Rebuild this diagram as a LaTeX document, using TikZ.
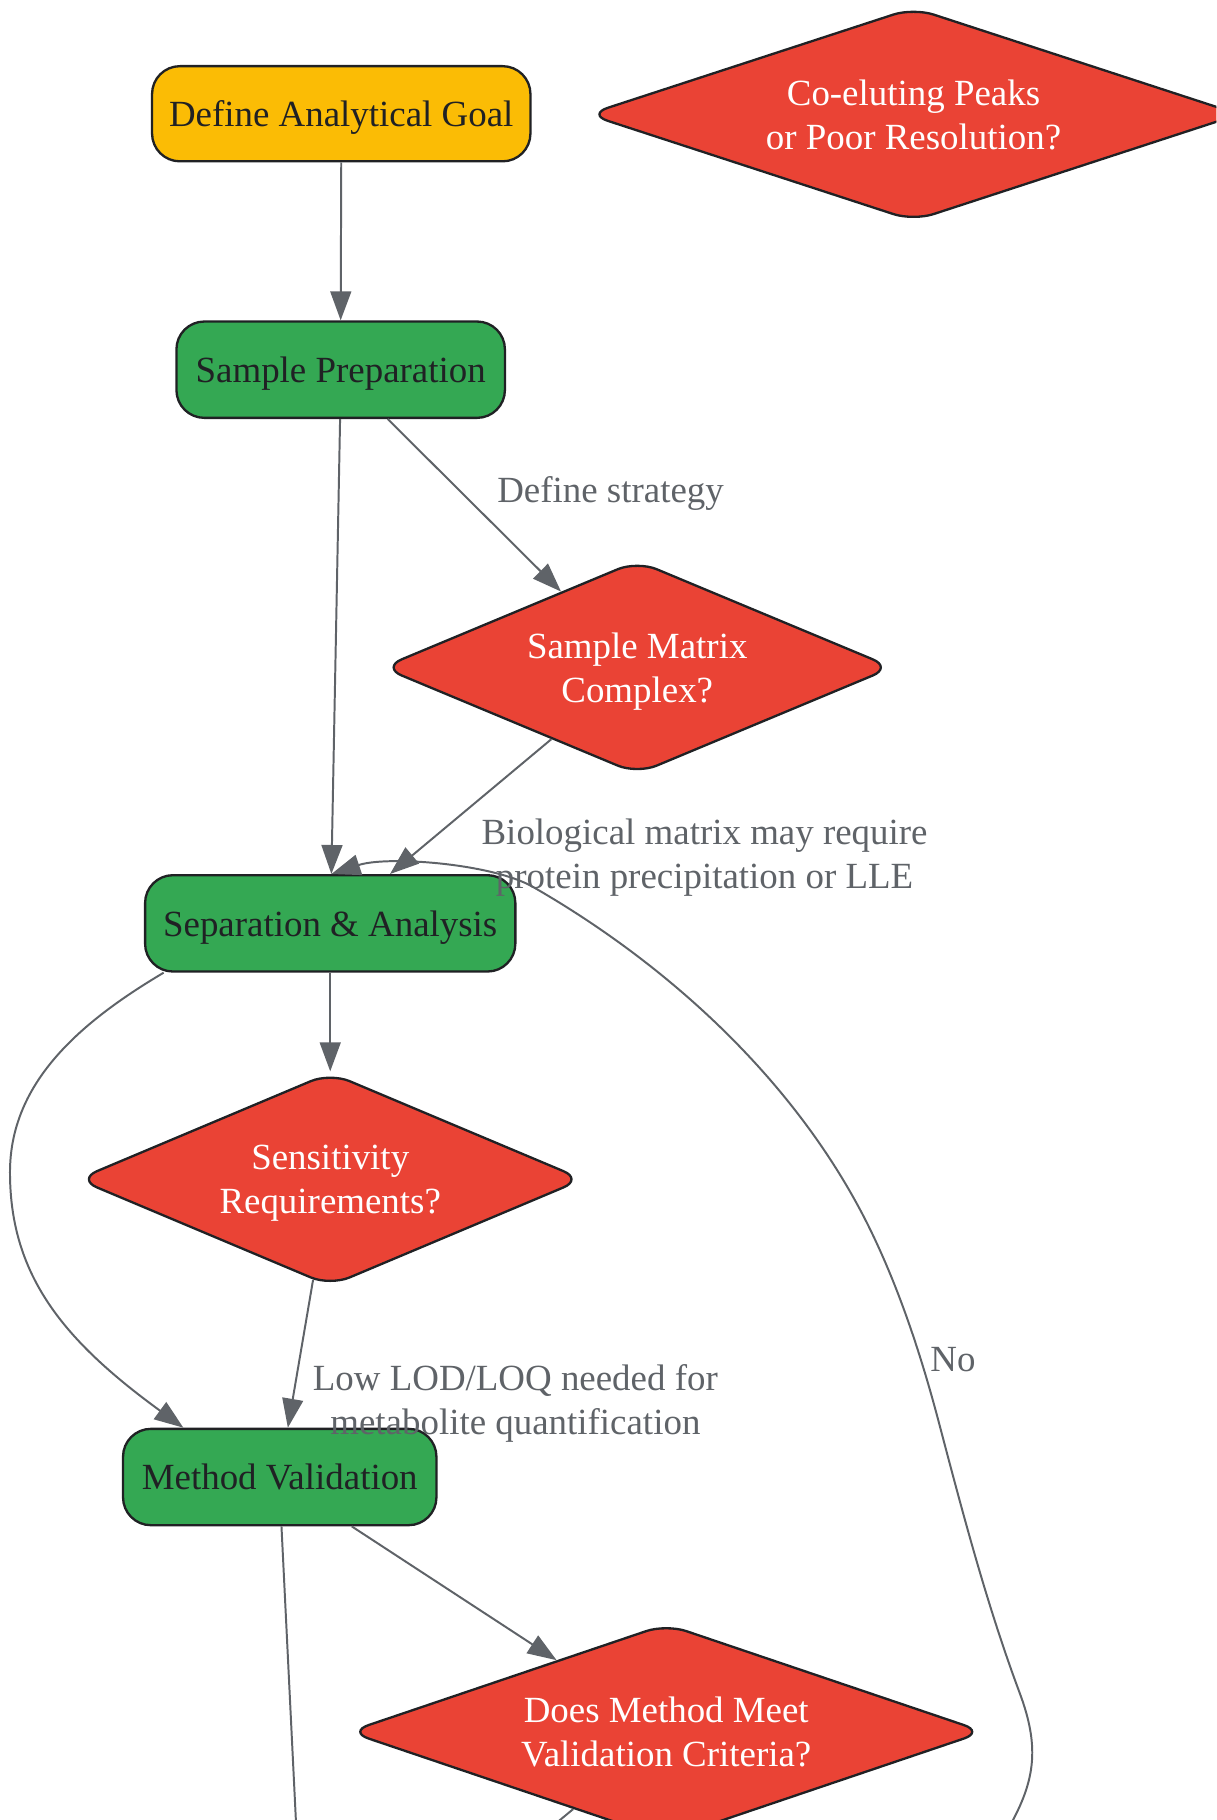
\documentclass[tikz,border=0pt]{standalone}
\usepackage{fontspec}
\setmainfont{Liberation Serif}
\usetikzlibrary{shapes.geometric,arrows.meta}
\definecolor{yellowc}{HTML}{FBBC05}
\definecolor{greenc}{HTML}{34A853}
\definecolor{redc}{HTML}{EA4335}
\definecolor{bordercol}{HTML}{202124}
\definecolor{edgecol}{HTML}{5F6368}
\definecolor{textdark}{HTML}{202124}
\newcommand{\nfnt}{\fontsize{31.8}{38}\selectfont}
\tikzset{
  procbox/.style={rectangle, rounded corners=24pt, draw=bordercol, line width=2pt,
    text=textdark, minimum height=83pt, inner sep=0pt, font=\nfnt,
    text height=22pt, text depth=-1pt},
  decbox/.style={diamond, aspect=3, rounded corners=18pt, draw=bordercol, line width=2pt,
    fill=redc, text=white, inner sep=0pt, align=center, font=\nfnt, text depth=-2pt},
  arrowline/.style={draw=edgecol, line width=1.7pt, -{Triangle[length=25pt,width=18pt]}},
  plainline/.style={draw=edgecol, line width=1.7pt},
  edgelbl/.style={text=edgecol, align=center, font=\nfnt, inner sep=0pt, text depth=0pt}
}
\begin{document}
\begin{tikzpicture}[x=1pt,y=1pt]
\useasboundingbox (0,0) rectangle (1048,-1568);
\clip (0,0) rectangle (1048,-1568);

% nodes
\node[procbox, fill=yellowc, minimum width=326pt, minimum height=82pt] (dag) at (294,-98) {Define Analytical Goal};
\node[procbox, fill=greenc, minimum width=283pt] (sp) at (293.5,-318.5) {Sample Preparation};
\node[procbox, fill=greenc, minimum width=319pt] (sa) at (284.5,-795.5) {Separation \& Analysis};
\node[procbox, fill=greenc, minimum width=270pt] (mv) at (241,-1272.5) {Method Validation};

\node[decbox, minimum width=562pt, minimum height=184pt] (coel) at (787,-98.5) {Co-eluting Peaks\\or Poor Resolution?};
\node[decbox, minimum width=440pt, minimum height=184pt] (matrix) at (549,-575) {Sample Matrix\\Complex?};
\node[decbox, minimum width=436pt, minimum height=184pt] (sens) at (284.5,-1016) {Sensitivity\\Requirements?};
\node[decbox, minimum width=548pt, minimum height=186pt] (does) at (574,-1492) {Does Method Meet\\Validation Criteria?};

% free ends of connectors leaving the picture
\coordinate (mvOut) at (255.5,-1580);
\coordinate (doesOut) at (468,-1580);
\coordinate (noIn) at (866,-1580);

% connectors
\draw[arrowline] (dag.south) -- (sp.north);
\draw[arrowline] ([xshift=40.5pt]sp.south) -- (matrix);
\draw[arrowline] ([xshift=-0.5pt]sp.south) -- ([xshift=1pt]sa.north);
\draw[arrowline] (matrix) -- ([xshift=51.5pt]sa.north);
\draw[arrowline] (sa.south) -- (sens);
\draw[arrowline] ([xshift=17pt]sa.south west) .. controls (65,-883) and (8.6,-935) .. (8.6,-1010)
   .. controls (8.6,-1099) and (55,-1155) .. ([xshift=53pt]mv.north west);
\draw[arrowline] (sens) -- ([xshift=7pt]mv.north);
\draw[arrowline] ([xshift=62pt]mv.south) -- (does);
\draw[plainline] ([xshift=1.5pt]mv.south) -- (mvOut);
\draw[plainline] (does) -- (doesOut);
\draw[arrowline] (noIn) .. controls (892,-1536) and (896.5,-1506.7) .. (878.3,-1458)
   .. controls (850.3,-1383) and (829.4,-1303.4) .. (809,-1226)
   .. controls (794.5,-1171) and (776.5,-1115.3) .. (752,-1064)
   .. controls (692,-938) and (581,-834) .. (459,-764)
   .. controls (424,-744) and (334,-737) .. ([xshift=1pt]sa.north);

% edge labels
\node[edgelbl] (lblStrategy) at (526,-422) {Define strategy};
\node[edgelbl] (lblBio) at (607,-735.5) {Biological matrix may require\\protein precipitation or LLE};
\node[edgelbl] (lblLod) at (444,-1206) {Low LOD/LOQ needed for\\metabolite quantification};
\node[edgelbl] (lblNo) at (821,-1171) {No};
\end{tikzpicture}
\end{document}
